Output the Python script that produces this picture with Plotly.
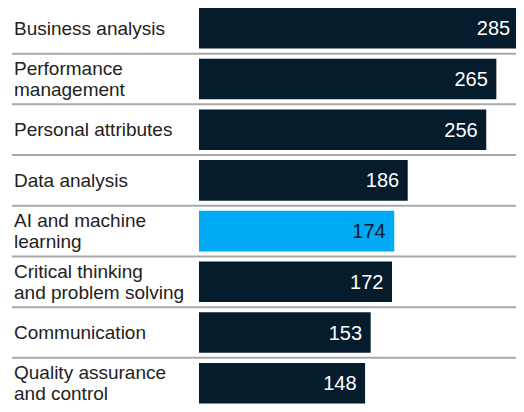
import plotly.graph_objects as go

categories = [
    "Business analysis",
    "Performance<br>management",
    "Personal attributes",
    "Data analysis",
    "AI and machine<br>learning",
    "Critical thinking<br>and problem solving",
    "Communication",
    "Quality assurance<br>and control",
]
values = [285, 265, 256, 186, 174, 172, 153, 148]
highlight = "AI and machine<br>learning"

NAVY = "#051C2C"
CYAN = "#00A9F4"
bar_colors = [CYAN if c == highlight else NAVY for c in categories]
text_colors = ["#051C2C" if c == highlight else "#FFFFFF" for c in categories]
ypos = list(range(len(categories)))

FONT = "Liberation Sans, Arial, sans-serif"
LABEL_SIZE = 19
LINE_H = 21
LEFT = 191

fig = go.Figure(
    go.Bar(
        x=values,
        y=ypos,
        orientation="h",
        width=0.8,
        marker=dict(color=bar_colors, line=dict(width=0)),
        text=[f"{v}\u00a0" for v in values],
        textposition="inside",
        insidetextanchor="end",
        textfont=dict(color=text_colors, size=20, family=FONT),
        constraintext="none",
        cliponaxis=True,
        hoverinfo="skip",
    )
)

annotations = []
for i, c in enumerate(categories):
    lines = c.split("<br>")
    n = len(lines)
    for j, line in enumerate(lines):
        annotations.append(
            dict(
                x=0, xref="paper", xshift=4 - LEFT, xanchor="left",
                y=i, yref="y", yanchor="middle",
                yshift=(n - 1) / 2 * LINE_H - j * LINE_H,
                text=line, showarrow=False, align="left",
                font=dict(size=LABEL_SIZE, color="#222222", family=FONT),
            )
        )

shapes = []
for i in range(len(categories) - 1):
    shapes.append(
        dict(
            type="line", xref="paper", yref="y",
            x0=-0.59, x1=1.0, y0=i + 0.5, y1=i + 0.5,
            line=dict(color="#A8A8A8", width=2),
            layer="above",
        )
    )

fig.update_layout(
    width=508, height=396,
    margin=dict(l=LEFT, r=0, t=0, b=0),
    paper_bgcolor="white", plot_bgcolor="white",
    showlegend=False,
    xaxis=dict(range=[0, 282.5], visible=False, fixedrange=True),
    yaxis=dict(range=[7.41, -0.40], visible=False, fixedrange=True),
    annotations=annotations,
    shapes=shapes,
    font=dict(family=FONT),
)

fig.write_html("out.html")
